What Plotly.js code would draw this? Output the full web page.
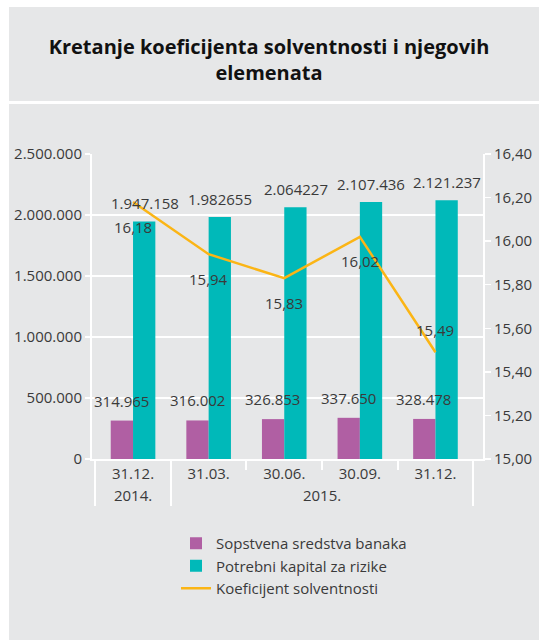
<!DOCTYPE html>
<html>
<head>
<meta charset="utf-8">
<script src="https://cdn.plot.ly/plotly-3.0.1.min.js"></script>
<style>html,body{margin:0;padding:0;background:#fff;}#chart{width:539px;height:640px;}</style>
</head>
<body>
<div id="chart"></div>
<script>
const years = ['2014.', '2015.', '2015.', '2015.', '2015.'];
// the zero-width space keeps the second "31.12." a distinct category (it is invisible)
const dates = ['31.12.', '31.03.', '30.06.', '30.09.', '31.12.\u200b'];
const ownFunds = [314965, 316002, 326853, 337650, 328478];
const ownFundsLabels = ['314.965', '316.002', '326.853', '337.650', '328.478'];
const capitalReq = [1947158, 1982655, 2064227, 2107436, 2121237];
const capitalReqLabels = ['1.947.158', '1.982655', '2.064227', '2.107.436', '2.121.237'];
const solvency = [16.18, 15.94, 15.83, 16.02, 15.49];
const solvencyLabels = ['16,18', '15,94', '15,83', '16,02', '15,49'];
const solvencyLabelShift = [-25, -25, -25, -24, 22];

const FONT = 'Open Sans, sans-serif';
const TXT = '#3a3a3a';
const BG = '#e6e7e8';

const L = 92, R = 483, T = 154, B = 459, W = 539, H = 640;
const px = x => (x - L) / (R - L);
const py = y => (B - y) / (B - T);
const BARGAP = 0.41;
const halfBarPx = (R - L) / dates.length * (1 - BARGAP) / 4;

const traces = [
  {
    type: 'bar', name: 'Sopstvena sredstva banaka',
    x: [years, dates], y: ownFunds,
    marker: {color: '#b05fa3'}, hoverinfo: 'none'
  },
  {
    type: 'bar', name: 'Potrebni kapital za rizike',
    x: [years, dates], y: capitalReq,
    marker: {color: '#00b9b9'}, hoverinfo: 'none'
  },
  {
    type: 'scatter', mode: 'lines', name: 'Koeficijent solventnosti',
    x: [years, dates], y: solvency, yaxis: 'y2',
    line: {color: '#fbb515', width: 2.5}, cliponaxis: false, hoverinfo: 'none'
  }
];

const lblFont = {family: FONT, size: 15, color: TXT};
const annotations = [];
ownFunds.forEach((v, i) => annotations.push({
  x: i, y: v, xref: 'x', yref: 'y', text: ownFundsLabels[i], showarrow: false,
  xshift: -halfBarPx, yshift: 20, yanchor: 'middle', font: lblFont
}));
capitalReq.forEach((v, i) => annotations.push({
  x: i, y: v, xref: 'x', yref: 'y', text: capitalReqLabels[i], showarrow: false,
  xshift: halfBarPx, yshift: 18, yanchor: 'middle', font: lblFont
}));
solvency.forEach((v, i) => annotations.push({
  x: i, y: v, xref: 'x', yref: 'y2', text: solvencyLabels[i], showarrow: false,
  yshift: solvencyLabelShift[i], yanchor: 'middle', font: lblFont
}));

const layout = {
  width: W, height: H,
  margin: {l: L, r: W - R, t: T, b: H - B, pad: 0},
  paper_bgcolor: '#ffffff', plot_bgcolor: BG,
  separators: ',.',
  font: {family: FONT, size: 15, color: TXT},
  title: {
    text: '<b>Kretanje koeficijenta solventnosti i njegovih<br>elemenata</b>',
    font: {family: FONT, size: 20, color: '#111111'},
    x: 269 / W, xref: 'container', xanchor: 'center',
    y: 1 - 54 / H, yref: 'container', yanchor: 'middle'
  },
  barmode: 'group', bargap: BARGAP, bargroupgap: 0,
  showlegend: true,
  legend: {
    x: px(176), y: py(527), xanchor: 'left', yanchor: 'top',
    bgcolor: 'rgba(0,0,0,0)', font: {family: FONT, size: 15, color: TXT},
    traceorder: 'normal', itemwidth: 30, tracegroupgap: 0
  },
  xaxis: {
    type: 'multicategory', showgrid: false, showline: true, linecolor: '#ffffff', linewidth: 2,
    ticks: 'outside', ticklen: 9, tickcolor: '#ffffff', tickwidth: 2,
    showdividers: true, dividercolor: '#ffffff', dividerwidth: 2,
    tickfont: {family: FONT, size: 15, color: TXT}, zeroline: false, fixedrange: true
  },
  yaxis: {
    range: [0, 2500000], dtick: 500000, tickformat: ',d',
    showgrid: true, gridcolor: '#ffffff', gridwidth: 1.5,
    showline: true, linecolor: '#ffffff', linewidth: 2,
    ticks: 'outside', ticklen: 5, tickcolor: '#ffffff', tickwidth: 1.5,
    zeroline: false, tickfont: {family: FONT, size: 15, color: TXT}, fixedrange: true
  },
  yaxis2: {
    overlaying: 'y', side: 'right', range: [15, 16.4], dtick: 0.2, tickformat: '.2f',
    showgrid: false, showline: true, linecolor: '#ffffff', linewidth: 2,
    ticks: 'outside', ticklen: 6, tickcolor: '#ffffff', tickwidth: 1.5,
    zeroline: false, tickfont: {family: FONT, size: 15, color: TXT}, fixedrange: true
  },
  shapes: [
    {type: 'rect', xref: 'paper', yref: 'paper', layer: 'below',
     x0: px(9), x1: px(540), y0: py(101), y1: py(7), fillcolor: BG, line: {width: 0}},
    {type: 'rect', xref: 'paper', yref: 'paper', layer: 'below',
     x0: px(9), x1: px(540), y0: py(641), y1: py(104), fillcolor: BG, line: {width: 0}}
  ],
  annotations: annotations
};

Plotly.newPlot('chart', traces, layout, {displayModeBar: false, staticPlot: true});
</script>
</body>
</html>
